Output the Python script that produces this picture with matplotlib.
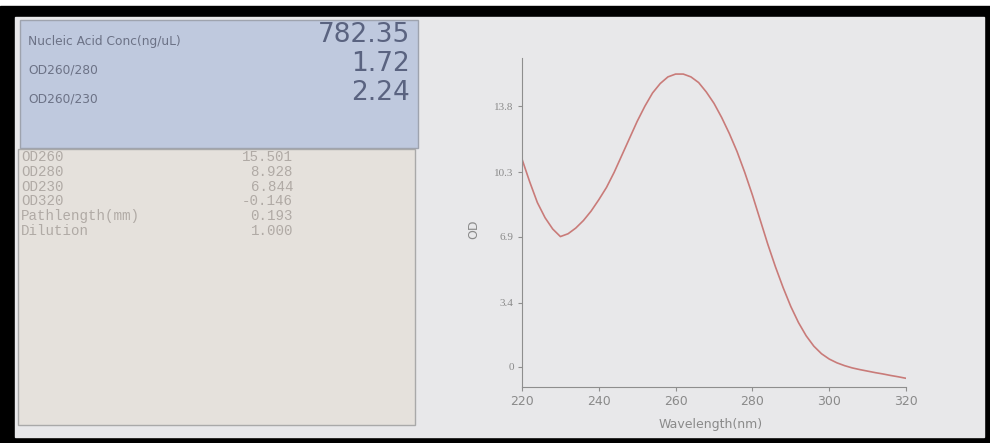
import matplotlib
matplotlib.use("Agg")
import matplotlib.pyplot as plt
from matplotlib.patches import Rectangle

# spectrum (nm, OD)
wavelength = [220, 222, 224, 226, 228, 230, 232, 234, 236, 238, 240, 242, 244, 246,
              248, 250, 252, 254, 256, 258, 260, 262, 264, 266, 268, 270, 272, 274,
              276, 278, 280, 282, 284, 286, 288, 290, 292, 294, 296, 298, 300, 302,
              304, 306, 308, 310, 312, 314, 316, 318, 320]
od = [11.0, 9.8, 8.7, 7.9, 7.3, 6.9, 7.05, 7.35, 7.75, 8.25, 8.85, 9.5, 10.3, 11.2,
      12.1, 13.0, 13.8, 14.5, 15.0, 15.35, 15.5, 15.5, 15.35, 15.05, 14.55, 13.95, 13.2, 12.35,
      11.4, 10.3, 9.1, 7.8, 6.5, 5.3, 4.2, 3.2, 2.35, 1.65, 1.1, 0.7, 0.42, 0.22,
      0.07, -0.05, -0.14, -0.22, -0.3, -0.37, -0.45, -0.52, -0.6]

yticks = [0, 3.4, 6.9, 10.3, 13.8]
xticks = [220, 240, 260, 280, 300, 320]

summary_labels = ["Nucleic Acid Conc(ng/uL)", "OD260/280", "OD260/230"]
summary_values = ["782.35", "1.72", "2.24"]

detail_labels = ["OD260", "OD280", "OD230", "OD320", "Pathlength(mm)", "Dilution"]
detail_values = ["15.501", "8.928", "6.844", "-0.146", "0.193", "1.000"]

fig = plt.figure(figsize=(9.9, 4.43), dpi=100)

# background: screen, frame and the two left boxes, in pixel coords
bg = fig.add_axes([0, 0, 1, 1])
bg.set_xlim(0, 990)
bg.set_ylim(443, 0)
bg.axis("off")
bg.add_patch(Rectangle((0, 6), 990, 437, color="black"))
bg.add_patch(Rectangle((15, 17), 969, 420, color="#e8e8ea"))
bg.add_patch(Rectangle((20, 20), 398, 128, facecolor="#bfc9de", edgecolor="#9ea3ae", lw=1))
bg.add_patch(Rectangle((18, 149), 397, 276, facecolor="#e5e1dc", edgecolor="#a9a9a9", lw=1))

for i, (lab, val) in enumerate(zip(summary_labels, summary_values)):
    y = 35 + i * 29
    bg.text(28, y + 6, lab, fontsize=8.8, color="#6c7286", va="center", ha="left")
    bg.text(410, y, val, fontsize=19, color="#5a6380", va="center", ha="right")

for i, (lab, val) in enumerate(zip(detail_labels, detail_values)):
    y = 157 + i * 14.8
    bg.text(21, y, lab, fontsize=10.2, color="#b0aaa5", va="center", ha="left",
            family="Liberation Mono")
    bg.text(293, y, val, fontsize=10.2, color="#b0aaa5", va="center", ha="right",
            family="Liberation Mono")

# spectrum chart
ax = fig.add_axes([522 / 990, 56 / 443, 384 / 990, 329 / 443])
ax.patch.set_alpha(0)
ax.plot(wavelength, od, color="#c97b79", lw=1.2)
ax.set_xlim(220, 320)
ax.set_ylim(-1.06, 16.35)

for side in ["top", "right"]:
    ax.spines[side].set_visible(False)
for side in ["left", "bottom"]:
    ax.spines[side].set_color("#8e8e8e")

ax.set_yticks(yticks)
ax.set_yticklabels([str(t) for t in yticks], family="Liberation Serif", fontsize=8)
ax.set_xticks(xticks)
ax.set_xticklabels([str(t) for t in xticks], fontsize=9)
ax.tick_params(colors="#8e8e8e", labelcolor="#8a8a8a", length=3, pad=3)

ax.set_ylabel("OD", color="#8a8a8a", fontsize=9)
ax.yaxis.set_label_coords(-0.11, 0.48)
ax.set_xlabel("Wavelength(nm)", color="#8a8a8a", fontsize=9)
ax.xaxis.set_label_coords(0.49, -0.095)

fig.savefig("out.png", dpi=100)
